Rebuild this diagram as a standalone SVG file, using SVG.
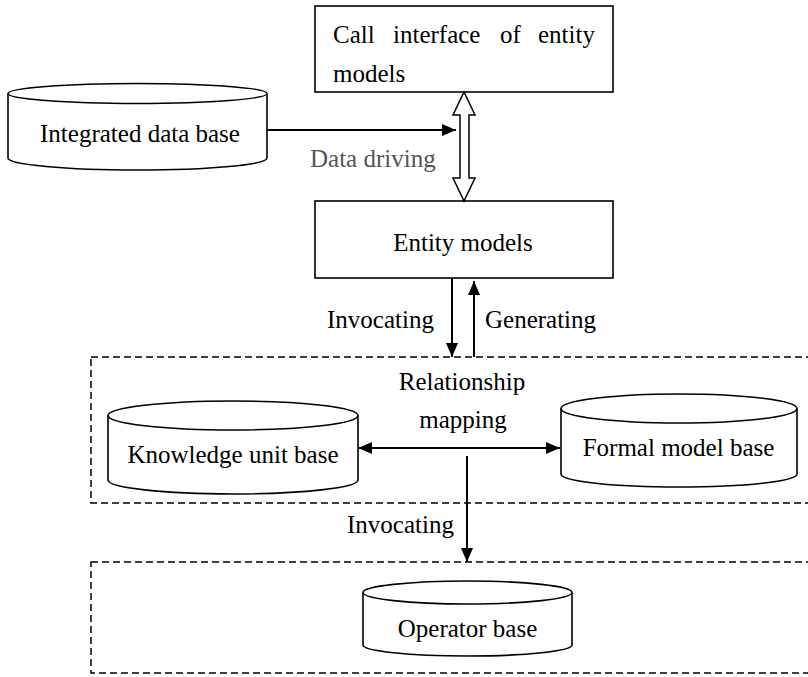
<svg xmlns="http://www.w3.org/2000/svg" width="808" height="677" viewBox="0 0 808 677">
<style>
text{font-family:'Liberation Serif','Times New Roman',Times,'DejaVu Serif',serif;font-size:25px;fill:#000}
.box{fill:#fff;stroke:#000;stroke-width:1.6}
.cyl{fill:#fff;stroke:#000;stroke-width:1.6}
.grp{fill:none;stroke:#000;stroke-width:1.5;stroke-dasharray:7 4}
.ln{fill:none;stroke:#000;stroke-width:2}
.gray{fill:#555}
</style>
<defs>
<marker id="ah" markerUnits="userSpaceOnUse" markerWidth="14" markerHeight="12" refX="14" refY="6" orient="auto-start-reverse">
<path d="M0,0 L14,6 L0,12 z" fill="#000"/>
</marker>
</defs>
<g font-family="Liberation Serif, Times New Roman, serif">
<g id="group-mapping"><rect class="grp" x="91" y="357" width="722" height="146"/></g>
<g id="group-operator"><rect class="grp" x="91" y="562" width="722" height="111"/></g>
<g id="call-interface">
<rect class="box" x="315" y="6" width="298" height="86"/>
<text x="333" y="43">Call</text>
<text x="393" y="43">interface</text>
<text x="500" y="43">of</text>
<text x="538" y="43">entity</text>
<text x="333" y="82">models</text>
</g>
<g id="entity-models">
<rect class="box" x="315" y="201" width="298" height="77"/>
<text x="463" y="251" text-anchor="middle">Entity models</text>
</g>
<g id="integrated-db">
<path class="cyl" d="M8,93.5 L8,158 A129.5,12 0 0 0 267,158 L267,93.5"/>
<ellipse class="cyl" cx="137.5" cy="93.5" rx="129.5" ry="10"/>
<text x="140" y="142" text-anchor="middle">Integrated data base</text>
</g>
<g id="knowledge-unit-base">
<path class="cyl" d="M108,415.5 L108,480 A125,14 0 0 0 358,480 L358,415.5"/>
<ellipse class="cyl" cx="233" cy="415.5" rx="125" ry="14.5"/>
<text x="233" y="463" text-anchor="middle">Knowledge unit base</text>
</g>
<g id="formal-model-base">
<path class="cyl" d="M561,408.5 L561,474 A118,13 0 0 0 797,474 L797,408.5"/>
<ellipse class="cyl" cx="679" cy="408.5" rx="118" ry="14.5"/>
<text x="678.5" y="456" text-anchor="middle">Formal model base</text>
</g>
<g id="operator-base">
<path class="cyl" d="M363,592.5 L363,645 A104.5,11 0 0 0 572,645 L572,592.5"/>
<ellipse class="cyl" cx="467.5" cy="592.5" rx="104.5" ry="11.5"/>
<text x="467.5" y="637" text-anchor="middle">Operator base</text>
</g>
<g id="connectors">
<polygon points="464,92 475,115 469,115 469,178 475,178 464,201 453,178 460,178 460,115 453,115" fill="#fff" stroke="#000" stroke-width="1.5"/>
<line class="ln" x1="267" y1="130" x2="456" y2="130" marker-end="url(#ah)"/>
<text class="gray" x="310" y="167">Data driving</text>
<line class="ln" x1="452" y1="278" x2="452" y2="357" marker-end="url(#ah)"/>
<line class="ln" x1="474" y1="357" x2="474" y2="281" marker-end="url(#ah)"/>
<text x="327" y="328">Invocating</text>
<text x="485" y="328">Generating</text>
<text x="462" y="390" text-anchor="middle">Relationship</text>
<text x="463" y="428" text-anchor="middle">mapping</text>
<line class="ln" x1="358" y1="448" x2="560" y2="448" marker-start="url(#ah)" marker-end="url(#ah)"/>
<line class="ln" x1="467" y1="456" x2="467" y2="562" marker-end="url(#ah)"/>
<text x="347" y="533">Invocating</text>
</g>
</g>
</svg>
